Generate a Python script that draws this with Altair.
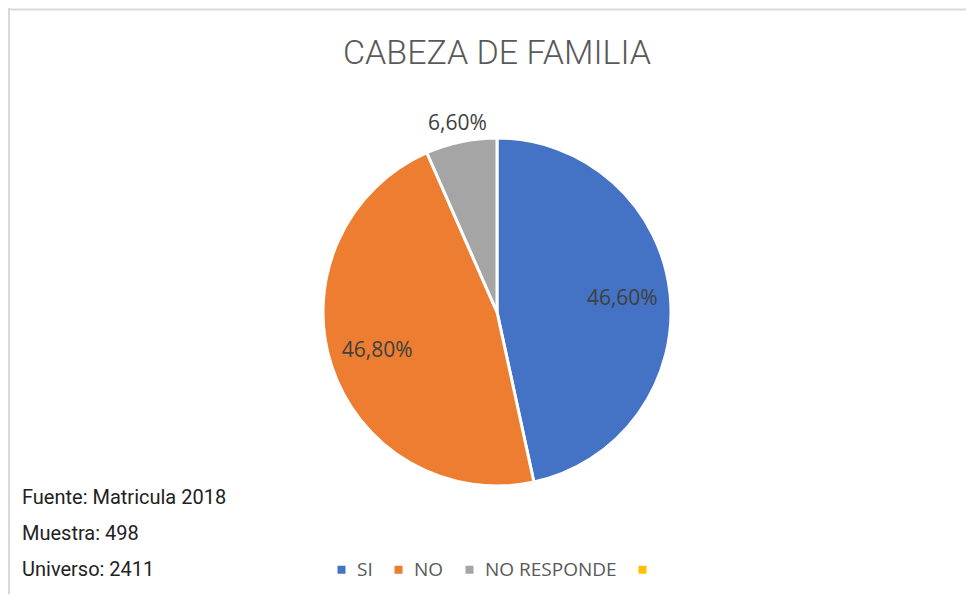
import altair as alt
import pandas as pd
import math

categories = ["SI", "NO", "NO RESPONDE"]
values = [46.6, 46.8, 6.6]
legend_domain = ["SI", "NO", "NO RESPONDE", " "]
colors = ["#4472C4", "#ED7D31", "#A5A5A5", "#FFC000"]
title_text = "CABEZA DE FAMILIA"
notes = ["Fuente: Matricula 2018", "Muestra: 498", "Universo: 2411"]

df = pd.DataFrame({"cat": categories, "value": values, "idx": list(range(len(categories)))})

W, H = 958, 586
CX, CY, R = 489, 304, 174

theta_scale = alt.Scale(domain=[0, sum(values)], range=[0, 2 * math.pi])

base = alt.Chart(df).transform_stack(
    stack="value", groupby=[], as_=["v0", "v1"], sort=[alt.SortField("idx", order="ascending")]
).transform_calculate(
    mid="(datum.v0 + datum.v1) / 2",
    label="replace(format(datum.value, '.2f'), '.', ',') + '%'",
    r="datum.value < 10 ? 192 : 126",
)

arc = base.mark_arc(outerRadius=R, stroke="white", strokeWidth=3).encode(
    theta=alt.Theta("v0:Q", scale=theta_scale),
    theta2="v1:Q",
    color=alt.Color(
        "cat:N",
        scale=alt.Scale(domain=legend_domain, range=colors),
        legend=alt.Legend(
            title=None,
            orient="none",
            direction="horizontal",
            legendX=324,
            legendY=552,
            symbolType="square",
            symbolSize=64,
            symbolStrokeWidth=0,
            labelFontSize=19,
            labelFont="Open Sans",
            labelColor="#595959",
            columnPadding=16,
            labelOffset=6,
        ),
    ),
    x=alt.value(CX),
    y=alt.value(CY),
)

labels = base.mark_text(font="Open Sans", fontSize=21, color="#404040").encode(
    theta=alt.Theta("mid:Q", scale=theta_scale),
    radius=alt.Radius("r:Q", scale=None),
    text="label:N",
    x=alt.value(CX),
    y=alt.value(CY),
)

title = alt.Chart(pd.DataFrame({"t": [title_text]})).mark_text(
    font="Roboto", fontWeight=300, fontSize=34, color="#595959", baseline="middle"
).encode(text="t:N", x=alt.value(CX), y=alt.value(46))

notes_df = pd.DataFrame({"t": notes, "i": list(range(len(notes)))})
notes_layer = alt.Chart(notes_df).mark_text(
    font="Roboto", fontSize=20, color="#222222", align="left", baseline="middle"
).encode(
    text="t:N",
    x=alt.value(14),
    y=alt.Y("i:O", scale=alt.Scale(type="point", range=[490, 562], padding=0), axis=None),
)

border_top = alt.Chart(pd.DataFrame({"a": [0]})).mark_rule(color="#D9D9D9", strokeWidth=2).encode(
    x=alt.value(0), x2=alt.value(W), y=alt.value(1.5)
)
border_left = alt.Chart(pd.DataFrame({"a": [0]})).mark_rule(color="#D9D9D9", strokeWidth=2).encode(
    x=alt.value(1), y=alt.value(0), y2=alt.value(H)
)

chart = alt.layer(arc, labels, title, notes_layer, border_top, border_left).properties(
    width=W, height=H, autosize=alt.AutoSizeParams(type="none"), padding=0
).configure_view(stroke=None).resolve_scale(y="independent")

chart.save("out.html", embed_options={"renderer": "svg", "actions": False})
